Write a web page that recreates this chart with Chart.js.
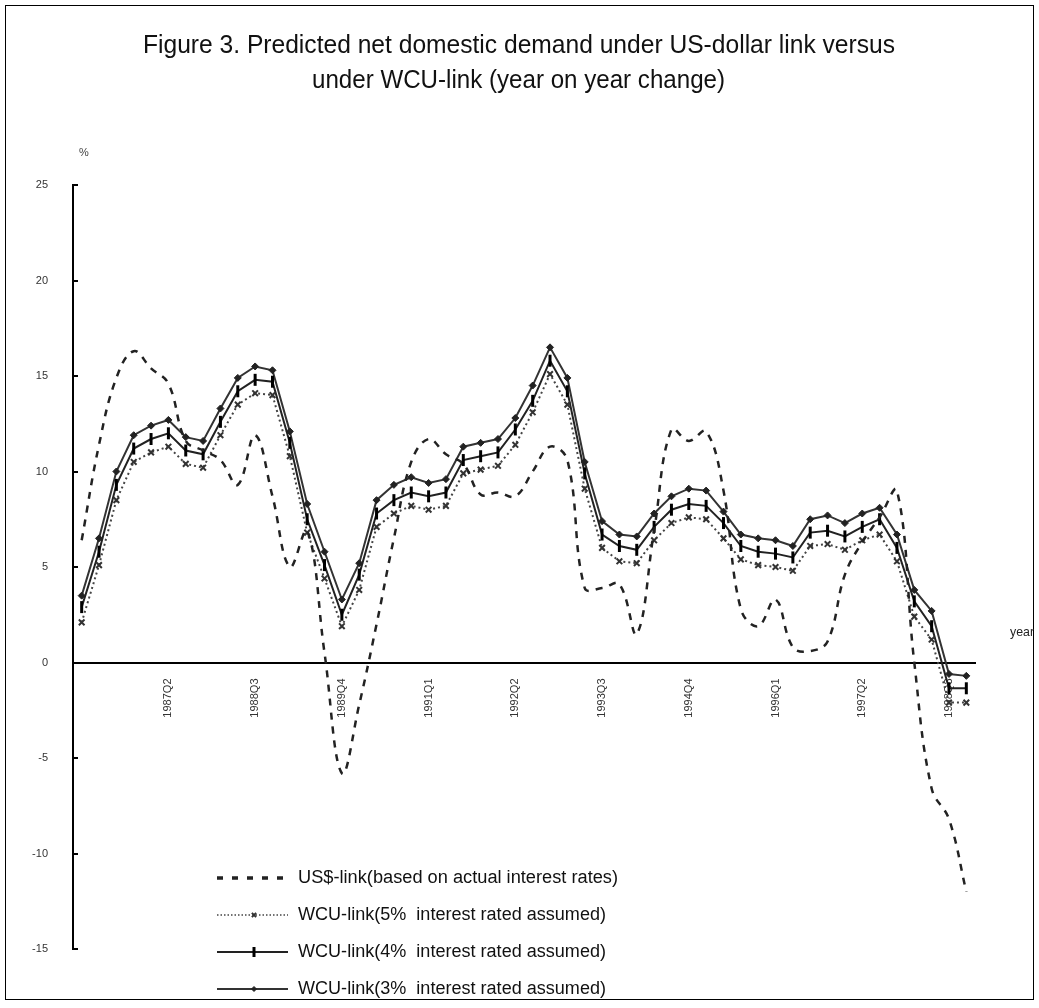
<!DOCTYPE html>
<html>
<head>
<meta charset="utf-8">
<script src="https://cdn.jsdelivr.net/npm/chart.js@4.4.1/dist/chart.umd.min.js"></script>
<style>
  html, body { margin: 0; padding: 0; background: #fff; }
  #wrap { width: 1039px; height: 1008px; }
</style>
</head>
<body>
<div id="wrap"><canvas id="chart" width="1039" height="1008"></canvas></div>
<script>
// Quarters on the category axis (1986Q1 - 1998Q4)
const quarters = [
    '1986Q1', '1986Q2', '1986Q3', '1986Q4', '1987Q1', '1987Q2', '1987Q3', '1987Q4',
    '1988Q1', '1988Q2', '1988Q3', '1988Q4', '1989Q1', '1989Q2', '1989Q3', '1989Q4',
    '1990Q1', '1990Q2', '1990Q3', '1990Q4', '1991Q1', '1991Q2', '1991Q3', '1991Q4',
    '1992Q1', '1992Q2', '1992Q3', '1992Q4', '1993Q1', '1993Q2', '1993Q3', '1993Q4',
    '1994Q1', '1994Q2', '1994Q3', '1994Q4', '1995Q1', '1995Q2', '1995Q3', '1995Q4',
    '1996Q1', '1996Q2', '1996Q3', '1996Q4', '1997Q1', '1997Q2', '1997Q3', '1997Q4',
    '1998Q1', '1998Q2', '1998Q3', '1998Q4'
];
// Only these quarters get a label on the x axis
const shownTicks = ['1987Q2', '1988Q3', '1989Q4', '1991Q1', '1992Q2', '1993Q3', '1994Q4', '1996Q1', '1997Q2', '1998Q3'];

// Year on year change, %
const usLink = [
    6.4, 11.4, 14.9, 16.3, 15.4, 14.6, 11.6, 11.1, 10.6, 9.3, 11.9, 8.7, 5.0,
    6.9, 0.5, -5.8, -2.2, 2.0, 6.5, 10.5, 11.7, 10.9, 10.4, 8.8, 8.9, 8.7,
    10.0, 11.3, 10.6, 3.9, 3.9, 4.1, 1.5, 6.9, 12.2, 11.6, 12.1, 9.0, 2.8,
    1.9, 3.3, 0.8, 0.6, 1.1, 4.6, 6.3, 7.6, 9.0, 0.0, -6.6, -8.2, -12.0
];
const wcu5 = [
    2.1, 5.1, 8.5, 10.5, 11.0, 11.3, 10.4, 10.2, 11.9, 13.5, 14.1, 14.0, 10.8,
    6.8, 4.4, 1.9, 3.8, 7.1, 7.8, 8.2, 8.0, 8.2, 9.9, 10.1, 10.3, 11.4,
    13.1, 15.1, 13.5, 9.1, 6.0, 5.3, 5.2, 6.4, 7.3, 7.6, 7.5, 6.5, 5.4,
    5.1, 5.0, 4.8, 6.1, 6.2, 5.9, 6.4, 6.7, 5.3, 2.4, 1.2, -2.1, -2.1
];
const wcu4 = [
    2.9, 5.8, 9.3, 11.2, 11.7, 12.0, 11.1, 10.9, 12.6, 14.2, 14.8, 14.7, 11.5,
    7.5, 5.1, 2.5, 4.6, 7.8, 8.5, 8.9, 8.7, 8.9, 10.6, 10.8, 11.0, 12.2,
    13.7, 15.8, 14.2, 9.9, 6.7, 6.1, 5.9, 7.1, 8.0, 8.3, 8.2, 7.3, 6.1,
    5.8, 5.7, 5.5, 6.8, 6.9, 6.6, 7.1, 7.5, 6.0, 3.2, 1.9, -1.35, -1.35
];
const wcu3 = [
    3.5, 6.5, 10.0, 11.9, 12.4, 12.7, 11.8, 11.6, 13.3, 14.9, 15.5, 15.3, 12.1,
    8.3, 5.8, 3.3, 5.2, 8.5, 9.3, 9.7, 9.4, 9.6, 11.3, 11.5, 11.7, 12.8,
    14.5, 16.5, 14.9, 10.5, 7.4, 6.7, 6.6, 7.8, 8.7, 9.1, 9.0, 7.9, 6.7,
    6.5, 6.4, 6.1, 7.5, 7.7, 7.3, 7.8, 8.1, 6.7, 3.8, 2.7, -0.6, -0.7
];

const titleLines = [
    'Figure 3. Predicted net domestic demand under US-dollar link versus',
    'under WCU-link (year on year change)'
];
const legendLabels = [
    'US$-link(based on actual interest rates)',
    'WCU-link(5%  interest rated assumed)',
    'WCU-link(4%  interest rated assumed)',
    'WCU-link(3%  interest rated assumed)'
];

const narrowFont = '"Liberation Sans Narrow", "Liberation Sans", Arial, sans-serif';
const tickFont = '"Liberation Sans", Arial, sans-serif';

// draw text squeezed to a given width (the original uses a very narrow face)
function fitText(ctx, text, x, y, width) {
    const w = ctx.measureText(text).width;
    ctx.save();
    ctx.translate(x, y);
    ctx.scale(width / w, 1);
    ctx.fillText(text, 0, 0);
    ctx.restore();
}

const datasets = [
    {
        label: legendLabels[0], data: usLink,
        borderColor: '#222', borderWidth: 2.5, borderDash: [7, 7],
        tension: 0.4, pointRadius: 0
    },
    {
        label: legendLabels[1], data: wcu5,
        borderColor: '#444', borderWidth: 2, borderDash: [2, 3],
        pointStyle: 'crossRot', pointRadius: 4, pointBorderWidth: 2,
        pointBorderColor: '#333', pointBackgroundColor: '#333'
    },
    {
        label: legendLabels[2], data: wcu4,
        borderColor: '#222', borderWidth: 2,
        pointStyle: 'line', pointRotation: 90, pointRadius: 6, pointBorderWidth: 3,
        pointBorderColor: '#000'
    },
    {
        label: legendLabels[3], data: wcu3,
        borderColor: '#333', borderWidth: 2,
        pointStyle: 'rectRot', pointRadius: 3.5, pointBorderWidth: 1,
        pointBorderColor: '#222', pointBackgroundColor: '#222'
    }
];

// frame, titles, axis captions, inward y ticks and the legend
const decorPlugin = {
    id: 'decor',
    afterDraw(chart) {
        const ctx = chart.ctx;
        const yScale = chart.scales.y;
        const area = chart.chartArea;
        ctx.save();

        // outer frame
        ctx.strokeStyle = '#000';
        ctx.lineWidth = 1;
        ctx.strokeRect(5.5, 5.5, 1028, 994);

        // title
        ctx.fillStyle = '#111';
        ctx.textBaseline = 'middle';
        ctx.textAlign = 'left';
        ctx.font = '25px ' + narrowFont;
        fitText(ctx, titleLines[0], 143, 46, 752);
        fitText(ctx, titleLines[1], 312, 81, 413);

        // axis captions
        ctx.fillStyle = '#444';
        ctx.font = '11px ' + tickFont;
        ctx.textAlign = 'center';
        ctx.fillText('%', 84, 153);
        ctx.fillStyle = '#222';
        ctx.textAlign = 'left';
        ctx.font = '13px ' + narrowFont;
        fitText(ctx, 'year', 1010, 632, 24);

        // inward tick marks on the y axis
        ctx.strokeStyle = '#000';
        ctx.lineWidth = 2;
        yScale.ticks.forEach(t => {
            const py = Math.round(yScale.getPixelForValue(t.value));
            ctx.beginPath();
            ctx.moveTo(area.left, py);
            ctx.lineTo(area.left + 5, py);
            ctx.stroke();
        });

        // legend
        const rowY = [878, 915, 952, 989];
        const x0 = 217, x1 = 288, xm = 254, tx = 298;
        const textW = [320, 308, 308, 308];
        chart.data.datasets.forEach((ds, i) => {
            const y = rowY[i];
            ctx.save();
            ctx.strokeStyle = ds.borderColor;
            if (i === 0) {
                ctx.lineWidth = 3.5;
                ctx.setLineDash([6, 9]);
            } else if (i === 1) {
                ctx.lineWidth = 1.5;
                ctx.setLineDash([1.5, 2]);
            } else {
                ctx.lineWidth = 2;
                ctx.setLineDash([]);
            }
            ctx.beginPath();
            ctx.moveTo(x0, y);
            ctx.lineTo(x1, y);
            ctx.stroke();
            ctx.setLineDash([]);
            if (i > 0) {
                ctx.fillStyle = ds.pointBackgroundColor || ds.pointBorderColor;
                ctx.strokeStyle = ds.pointBorderColor;
                ctx.lineWidth = ds.pointBorderWidth;
                Chart.helpers.drawPoint(ctx, {
                    pointStyle: ds.pointStyle,
                    rotation: ds.pointRotation || 0,
                    radius: i === 1 ? 3 : (i === 2 ? 5 : 2.5),
                    borderWidth: ds.pointBorderWidth
                }, xm, y);
            }
            ctx.restore();

            ctx.fillStyle = '#111';
            ctx.font = '18px ' + narrowFont;
            ctx.textAlign = 'left';
            ctx.textBaseline = 'middle';
            fitText(ctx, ds.label, tx, y, textW[i]);
        });

        ctx.restore();
    }
};

const ctx = document.getElementById('chart').getContext('2d');
const myChart = new Chart(ctx, {
    type: 'line',
    data: { labels: quarters, datasets },
    options: {
        responsive: false,
        animation: false,
        devicePixelRatio: 1,
        layout: { padding: { left: 13, right: 64, top: 185, bottom: 59 } },
        plugins: {
            legend: { display: false },
            title: { display: false },
            tooltip: { enabled: false }
        },
        scales: {
            x: {
                type: 'category',
                offset: true,
                position: { y: 0 },
                grid: { display: false, drawTicks: false },
                border: { display: true, color: '#000', width: 2 },
                ticks: {
                    autoSkip: false,
                    minRotation: 90,
                    maxRotation: 90,
                    padding: 16,
                    color: '#333',
                    font: { family: tickFont, size: 11 },
                    callback(value) {
                        const lab = this.getLabelForValue(value);
                        return shownTicks.includes(lab) ? lab : '';
                    }
                }
            },
            y: {
                min: -15,
                max: 25,
                afterFit(scale) { scale.width = 60; },
                grid: { display: false, drawTicks: false },
                border: { display: true, color: '#000', width: 2 },
                ticks: {
                    stepSize: 5,
                    padding: 25,
                    color: '#333',
                    font: { family: tickFont, size: 11 }
                }
            }
        }
    },
    plugins: [decorPlugin]
});
</script>
</body>
</html>
